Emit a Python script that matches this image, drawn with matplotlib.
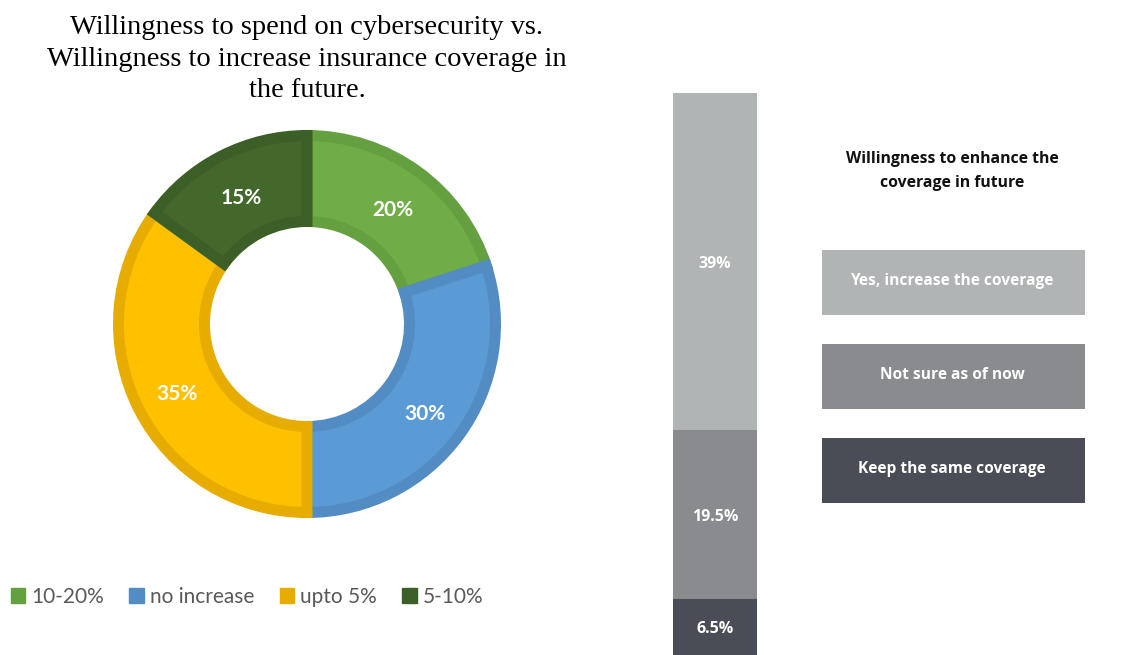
import matplotlib.pyplot as plt
from matplotlib.patches import Patch, Rectangle

# donut data
pie_labels = ["10-20%", "no increase", "upto 5%", "5-10%"]
pie_values = [20, 30, 35, 15]
pie_colors = ["#70AD47", "#5B9BD5", "#FFC000", "#43682B"]
pie_edges = ["#65A040", "#528CC2", "#E6AD00", "#3C5E27"]

# stacked bar data (bottom to top)
bar_labels = ["Keep the same coverage", "Not sure as of now", "Yes, increase the coverage"]
bar_values = [6.5, 19.5, 39]
bar_colors = ["#4A4D55", "#898B8F", "#B1B4B5"]
bar_text = ["6.5%", "19.5%", "39%"]

W, H = 1127, 655
fig = plt.figure(figsize=(W / 100, H / 100), dpi=100)

def box(x0, y0, x1, y1):
    # pixel box (top-left origin) -> figure fraction rect
    return [x0 / W, 1 - y1 / H, (x1 - x0) / W, (y1 - y0) / H]

# title
fig.text(307 / W, 1 - 59 / H,
         "Willingness to spend on cybersecurity vs.\nWillingness to increase insurance coverage in\nthe future.",
         ha="center", va="center", fontsize=20.5, family="Liberation Serif", linespacing=1.33)

# donut: border stroke sits half outside, so shrink the ring by half the stroke
ax = fig.add_axes(box(113, 130, 501, 518))
lw_px = 11
b = (lw_px / 2) / 194
wedges, texts, autotexts = ax.pie(
    pie_values, colors=pie_colors, startangle=90, counterclock=False, radius=1 - b,
    autopct=lambda p: f"{p:.0f}%", pctdistance=0.75 / (1 - b),
    wedgeprops=dict(width=0.5 - 2 * b, linewidth=lw_px * 0.72),
    textprops=dict(color="white", fontsize=15, fontweight="bold", family="Lato"))
for w, ec in zip(wedges, pie_edges):
    w.set_edgecolor(ec)
for t in autotexts:
    x, y = t.get_position()
    t.set_position((x, y - 4 / 194))
ax.set_xlim(-1, 1)
ax.set_ylim(-1, 1)

handles = [Patch(facecolor=ec, edgecolor=ec) for ec in pie_edges]
leg = fig.legend(handles, pie_labels, ncol=4, loc="center left",
                 bbox_to_anchor=(-8 / W, 1 - 597 / H), frameon=False,
                 handlelength=0.7, handleheight=0.7, handletextpad=0.3,
                 columnspacing=1.2, prop=dict(family="Lato", size=15))
for t in leg.get_texts():
    t.set_color("#595959")

# stacked bar
bx = fig.add_axes(box(673, 93, 757, 655))
bottom = 0
for v, c, t in zip(bar_values, bar_colors, bar_text):
    bx.bar(0, v, width=1, bottom=bottom, color=c, edgecolor="none")
    bx.text(0, bottom + v / 2 - 0.25, t, ha="center", va="center", color="white",
            fontsize=11.5, fontweight="bold", family="Open Sans")
    bottom += v
bx.set_xlim(-0.5, 0.5)
bx.set_ylim(0, bottom)
bx.axis("off")

# legend boxes on the right
ov = fig.add_axes([0, 0, 1, 1])
ov.set_xlim(0, W)
ov.set_ylim(H, 0)
ov.axis("off")
ov.text(952, 171, "Willingness to enhance the\ncoverage in future", ha="center", va="center",
        fontsize=11.3, fontweight="bold", family="Open Sans", color="#111111", linespacing=1.6)
for i, (lab, c) in enumerate(zip(bar_labels[::-1], bar_colors[::-1])):
    y0 = 250 + i * 94
    ov.add_patch(Rectangle((822, y0), 263, 65, facecolor=c, edgecolor="none"))
    ov.text(952, y0 + 31, lab, ha="center", va="center", color="white",
            fontsize=11.2, fontweight="bold", family="Open Sans")

fig.savefig("out.png", dpi=100)
